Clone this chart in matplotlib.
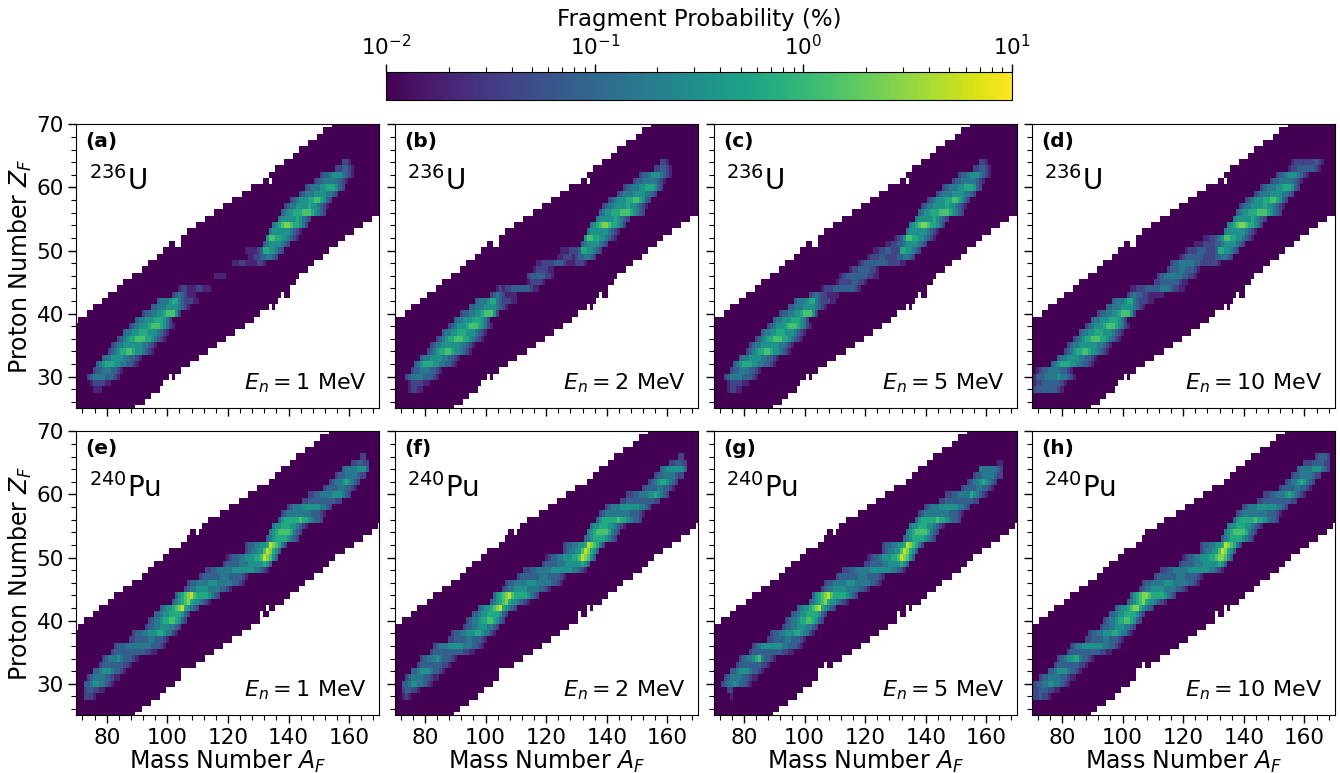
import matplotlib
matplotlib.use('Agg')
import matplotlib.pyplot as plt
import numpy as np
from matplotlib.colors import LogNorm
from matplotlib.cm import ScalarMappable
from matplotlib.ticker import MultipleLocator

# Z values are 25..70, band limits in A for every Z
Z_VALUES = np.arange(25, 71)
A_VALUES = np.arange(70, 171)

U_AMIN = [70] * 14 + [71, 74, 76, 79, 81, 84, 86, 89, 92, 94, 97, 99, 101, 105, 107, 110, 113, 116,
                      119, 122, 125, 128, 132, 134, 136, 139, 142, 144, 147, 150, 152, 155]
U_AMAX = [89, 92, 94, 97, 98, 102, 104, 107, 110, 113, 116, 119, 122, 125, 128, 130, 135, 136, 140,
          140, 142, 143, 146, 148, 151, 153, 156, 158, 161, 164, 167] + [170] * 15
PU_AMIN = [70] * 14 + [71, 73, 76, 78, 81, 83, 86, 89, 92, 94, 96, 99, 101, 105, 107, 108, 112, 114,
                       118, 121, 124, 127, 130, 134, 136, 138, 141, 143, 146, 149, 151, 154]
PU_AMAX = [89, 91, 94, 97, 99, 102, 104, 104, 109, 112, 115, 118, 121, 124, 127, 130, 133, 135, 138,
           140, 143, 145, 148, 151, 153, 155, 158, 161, 164, 167, 169] + [170] * 15

U_HOLES = [(30, 101), (41, 134), (43, 138), (51, 103), (51, 104), (61, 134)]
PU1_HOLES = [(41, 131), (42, 133), (54, 110)]
PU2_HOLES = [(41, 131), (42, 134), (54, 110)]
PU3_HOLES = [(33, 107), (41, 131), (42, 134), (54, 110)]
PU4_HOLES = [(33, 107), (41, 131), (42, 134)]

# Z -> (first A, colour level per cell)
U1 = {28: (76, "111"), 29: (75, "1222211"), 30: (74, "23444433321"), 31: (76, "2334443321"),
      32: (77, "34566655443321"), 33: (79, "3445555443321"), 34: (81, "234566776554321"),
      35: (82, "234455555544321"), 36: (84, "2345667776654321"), 37: (86, "344556665554321"),
      38: (88, "234555677765421"), 39: (90, "344555666542"), 40: (92, "2334455677752"),
      41: (95, "3344455554321"), 42: (97, "34445664322211"), 43: (102, "23432111"),
      44: (104, "12211122111"), 46: (116, "1111"), 48: (122, "11221111221"),
      49: (127, "1122334432"), 50: (126, "1111236655432"), 51: (132, "345555432"),
      52: (133, "57766554321"), 53: (134, "45555554321"), 54: (135, "456788766542"),
      55: (137, "45555565432"), 56: (138, "345566677765432"), 57: (139, "234455556554321"),
      58: (141, "23455566776532"), 59: (144, "2344455554432"), 60: (146, "2344455666532"),
      61: (149, "23344444321"), 62: (151, "23345554321"), 63: (156, "223321"), 64: (158, "221")}
U2 = {**U1, 28: (75, "12211"), 43: (102, "234321111"), 44: (104, "12122333333211"),
      45: (114, "122221"), 46: (114, "233333221"), 47: (116, "1222211"),
      48: (117, "11222233321112221"), 49: (124, "1122212334432"), 50: (125, "11122236655432")}
U3 = {**U1, 28: (75, "12211"), 43: (102, "2343221111"), 44: (106, "1222333333321"),
      45: (111, "1222233221"), 46: (112, "1233333332211"), 47: (115, "1223333221"),
      48: (118, "1233333333222211"), 49: (121, "1222332222334432"),
      50: (123, "1122332226655432"), 51: (127, "11223345555432"), 52: (130, "12357766554321")}
U4 = {**U1, 28: (70, "12333333321"), 29: (71, "12233333321"), 30: (71, "13334444544321"),
      31: (72, "123344443321"), 43: (102, "234332211111"), 44: (103, "112223333344432211"),
      45: (111, "22333333211"), 46: (112, "2344444433221"), 47: (115, "23334433321"),
      48: (116, "23344444332222221"), 49: (119, "123333332222334432"),
      50: (121, "122233322236655432"), 51: (124, "11122223345555432"),
      52: (127, "11223457766554321"), 63: (155, "12233333321"), 64: (156, "12222222321")}

PU1 = {28: (73, "2221"), 29: (73, "2332211"), 30: (73, "3345544321"), 31: (74, "23444433211"),
       32: (76, "33455543321"), 33: (78, "23333333221"), 34: (79, "234445433321"),
       35: (82, "233333333332211"), 36: (83, "23334444444433321"), 37: (88, "2233334433321"),
       38: (89, "233445556654421"), 39: (93, "233445554432"), 40: (94, "2344566776532"),
       41: (96, "334556666532"), 42: (98, "3455678965432"), 43: (102, "3456786554321"),
       44: (103, "356789766665432"), 45: (106, "2344555544443321"),
       46: (107, "2334444555444443321"), 47: (111, "2333333444333321"),
       48: (113, "223344444555555544321"), 49: (119, "2333344455555653"),
       50: (120, "12334455566798753"), 51: (126, "234455798653"), 52: (126, "23344556987642"),
       53: (133, "34566665432"), 54: (134, "45677776432"), 55: (135, "455666554321"),
       56: (137, "356666676654332"), 57: (138, "234444444433321"), 58: (140, "234445555554432"),
       59: (145, "2233333333322"), 60: (147, "22334444555432"), 61: (152, "23333443321"),
       62: (154, "2344565432"), 63: (156, "2334444322"), 64: (158, "344445553"),
       65: (161, "223322"), 66: (164, "22")}
PU2 = {**PU1, 28: (73, "121"), 29: (73, "233221"), 36: (83, "23444555554443321"),
       60: (147, "22334445565432"), 62: (154, "2345665432"), 64: (158, "345555553")}
PU3 = {**PU1, 28: (76, "1"), 29: (75, "22"), 30: (73, "2344543321"), 34: (79, "234456743321"),
       36: (83, "23455555554433321"), 49: (120, "223333445555653"),
       50: (121, "1233455566798753"), 60: (147, "22334444654321"), 64: (158, "44444432"),
       65: (164, "11"), 66: (164, "")}
PU4 = {**PU1, 28: (70, "1223221"), 29: (71, "223332211"), 30: (71, "233445544321"),
       31: (73, "233444433211"), 34: (79, "234556643321"), 36: (83, "23445555555443321"),
       42: (98, "3455678865432"), 44: (103, "356788766665432"),
       50: (120, "12334455566788753"), 60: (147, "22334445654321"),
       64: (158, "34444555432"), 65: (160, "222333322"), 66: (164, "23332")}

PANELS = [U1, U2, U3, U4, PU1, PU2, PU3, PU4]
LETTERS = ['(a)', '(b)', '(c)', '(d)', '(e)', '(f)', '(g)', '(h)']
ENERGIES = [1, 2, 5, 10]

LEFTS = [76.4, 394.7, 713.7, 1031.7]
TOPS = [124.3, 431.3]
WIDTH = 303.0
HEIGHT = 284.0
W, H = 1340.0, 773.0


def build_grid(rows, amin, amax, holes):
    # white outside the band, lowest colour inside it
    grid = np.full((len(Z_VALUES), len(A_VALUES)), np.nan)
    for i, z in enumerate(Z_VALUES):
        grid[i, amin[i] - 70:amax[i] - 70 + 1] = 1e-2
    for z, a in holes:
        grid[z - 25, a - 70] = np.nan
    for z, (start, levels) in rows.items():
        for k, d in enumerate(levels):
            if start + k <= 170:
                grid[z - 25, start + k - 70] = 10 ** (-2 + int(d) / 3.3)
    return np.ma.masked_invalid(grid)


fig = plt.figure(figsize=(13.4, 7.73), dpi=100)
norm = LogNorm(vmin=1e-2, vmax=10)
x_edges = np.arange(69.5, 171)
z_edges = np.arange(24.5, 71)
holes_all = [U_HOLES] * 4 + [PU1_HOLES, PU2_HOLES, PU3_HOLES, PU4_HOLES]

for n, rows in enumerate(PANELS):
    r, c = n // 4, n % 4
    ax = fig.add_axes([LEFTS[c] / W, 1 - (TOPS[r] + HEIGHT) / H, WIDTH / W, HEIGHT / H])
    if r == 0:
        grid = build_grid(rows, U_AMIN, U_AMAX, holes_all[n])
    else:
        grid = build_grid(rows, PU_AMIN, PU_AMAX, holes_all[n])
    ax.pcolormesh(x_edges, z_edges, grid, cmap='viridis', norm=norm)
    ax.set_xlim(70, 170)
    ax.set_ylim(25, 70)
    ax.xaxis.set_major_locator(MultipleLocator(20))
    ax.xaxis.set_minor_locator(MultipleLocator(4))
    ax.yaxis.set_major_locator(MultipleLocator(10))
    ax.yaxis.set_minor_locator(MultipleLocator(2))
    ax.tick_params(which='major', length=6, width=1, labelsize=15.5, pad=3)
    ax.tick_params(which='minor', length=3.5, width=0.8)
    if r == 0:
        ax.set_xticklabels([])
    else:
        ax.set_xlabel(r'Mass Number $A_F$', fontsize=17, labelpad=0)
    if c == 0:
        ax.set_ylabel(r'Proton Number $Z_F$', fontsize=17, labelpad=2)
    else:
        ax.set_yticklabels([])
    ax.text(0.03, 0.94, LETTERS[n], transform=ax.transAxes, fontsize=14.5, fontweight='bold', va='center')
    iso = r'$^{236}$U' if r == 0 else r'$^{240}$Pu'
    ax.text(0.04, 0.80, iso, transform=ax.transAxes, fontsize=20, va='center')
    ax.text(0.96, 0.09, r'$E_n = %d$ MeV' % ENERGIES[c], transform=ax.transAxes, fontsize=16,
            ha='right', va='center')

cax = fig.add_axes([386.0 / W, 1 - 100.0 / H, 626.0 / W, 28.0 / H])
cb = fig.colorbar(ScalarMappable(norm=norm, cmap='viridis'), cax=cax, orientation='horizontal')
cax.xaxis.set_ticks_position('top')
cax.xaxis.set_label_position('top')
cax.tick_params(which='major', length=6, width=1, labelsize=15.5, pad=3)
cax.tick_params(which='minor', length=3.5, width=0.8)
cb.outline.set_linewidth(0.8)
cb.set_label('Fragment Probability (%)', fontsize=16.5, labelpad=6)

fig.savefig('out.png', dpi=100)
